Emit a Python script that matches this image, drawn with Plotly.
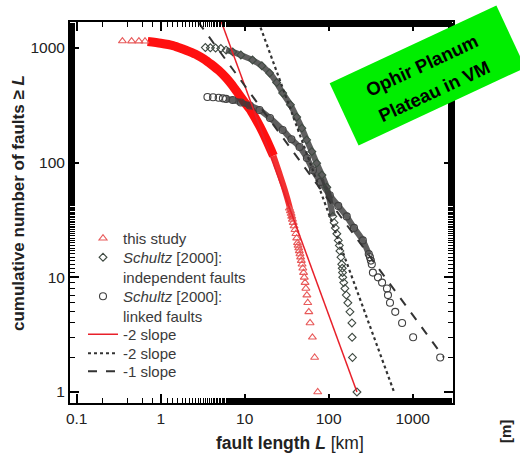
import math
import plotly.graph_objects as go

FONT = "Liberation Sans, Arial, sans-serif"

# ---- this study: cumulative number of faults >= L ----
study_band_L = [0.7, 1.0, 1.4, 1.8, 2.2, 2.7, 3.3, 4.0, 5.0, 6.0, 7.0, 8.0, 10, 12, 15, 18, 22]
study_band_N = [1140, 1100, 1050, 985, 930, 870, 800, 720, 630, 550, 480, 420, 335, 280, 210, 160, 115]
study_neck_L = [22, 26, 30, 34, 37]
study_neck_N = [115, 80, 58, 42, 32]
study_pts_L = [0.35, 0.45, 0.55, 0.65,
               34, 35, 35.7, 36.3, 37, 37.8, 38.7, 39.7, 40.7, 41.6, 42.5, 43.2, 44, 44.7, 45.5,
               46.3, 47.2, 48.2, 49.2, 50.2, 51.2, 52.3, 53.5, 55, 56.3, 58, 60, 64, 68, 74]
study_pts_N = [1150, 1149, 1148, 1146,
               40, 38, 36, 34, 32, 30, 28, 26, 24, 22, 20, 19, 18, 17, 16,
               15, 14, 13, 12, 11, 10, 9, 8, 7, 6, 5, 4, 3, 2, 1]

# ---- Schultz [2000]: independent faults ----
indep_band_L = [6.0, 7.2, 9.0, 12.4, 16, 19.8, 24, 28.3, 35, 41.6, 48, 54.7, 63, 72, 83, 95, 112]
indep_band_N = [960, 925, 870, 786, 700, 605, 500, 405, 320, 250, 200, 158, 125, 99, 78, 61, 34]
indep_pts_L = [3.4, 3.9, 4.5, 5.2,
               116, 120, 125, 130, 134, 136, 140, 143, 145, 146, 147, 151, 156, 162, 169, 179,
               189, 190, 192, 217]
indep_pts_N = [1010, 1005, 1000, 990,
               30, 27, 24, 21, 19, 17, 15, 13, 12, 11, 10, 9, 8, 7, 6, 5,
               4, 3, 2, 1]

# ---- Schultz [2000]: linked faults ----
linked_band_L = [6.0, 7.2, 9.0, 11.5, 15, 20, 28.3, 36, 45, 55, 65, 80, 103, 130, 164, 200, 255, 300]
linked_band_N = [360, 352, 335, 315, 288, 245, 193, 160, 137, 110, 86, 68, 52, 42, 34, 27, 21, 16]
linked_pts_L = [3.6, 4.2, 4.9, 5.5,
                310, 318, 326, 336, 386, 432, 494, 508, 537, 620, 748, 1012, 2125]
linked_pts_N = [374, 372, 368, 364,
                15, 14, 13, 11, 10, 9, 8, 7, 6, 5, 4, 3, 2]

# ---- reference power-law slopes (end points) ----
red_slope_L = [5.2, 217]
red_slope_N = [1740, 1]
dot_slope_L = [14.6, 600]
dot_slope_N = [1690, 1]
dash_slope_L = [2.8, 2350]
dash_slope_N = [1680, 2]

x_ticks = [0.1, 1, 10, 100, 1000]
x_tick_text = ["0.1", "1", "10", "100", "1000"]
y_ticks = [1, 10, 100, 1000]
y_tick_text = ["1", "10", "100", "1000"]

fig = go.Figure()

# dense parts of the distributions
fig.add_trace(go.Scatter(x=study_band_L, y=study_band_N, mode="lines",
                         line=dict(color="#ff1010", width=9, shape="spline", smoothing=0.7),
                         showlegend=False, hoverinfo="skip"))
fig.add_trace(go.Scatter(x=study_neck_L, y=study_neck_N, mode="lines",
                         line=dict(color="#f43030", width=6, shape="spline", smoothing=0.7),
                         showlegend=False, hoverinfo="skip"))
fig.add_trace(go.Scatter(x=indep_band_L, y=indep_band_N, mode="lines",
                         line=dict(color="rgba(55,55,55,0.8)", width=6, shape="spline", smoothing=0.7),
                         showlegend=False, hoverinfo="skip"))
fig.add_trace(go.Scatter(x=linked_band_L, y=linked_band_N, mode="lines",
                         line=dict(color="rgba(55,55,55,0.8)", width=6, shape="spline", smoothing=0.7),
                         showlegend=False, hoverinfo="skip"))

# individual symbols (each entry in its own legend box so the rows can be spaced freely)
fig.add_trace(go.Scatter(x=study_pts_L, y=study_pts_N, mode="markers", name="this study",
                         legend="legend",
                         marker=dict(symbol="triangle-up-open", size=7, color="#e85a5a",
                                     line=dict(width=1.1))))
fig.add_trace(go.Scatter(x=indep_band_L + indep_pts_L, y=indep_band_N + indep_pts_N, mode="markers",
                         name="<i>Schultz</i> [2000]:<br>independent faults", legend="legend2",
                         marker=dict(symbol="diamond-open", size=6, color="#3f4a42",
                                     line=dict(width=1.1))))
fig.add_trace(go.Scatter(x=linked_band_L + linked_pts_L, y=linked_band_N + linked_pts_N, mode="markers",
                         name="<i>Schultz</i> [2000]:<br>linked faults", legend="legend3",
                         marker=dict(symbol="circle-open", size=7, color="#404040",
                                     line=dict(width=1.1))))

# slope guides
fig.add_trace(go.Scatter(x=red_slope_L, y=red_slope_N, mode="lines", name="-2 slope",
                         legend="legend4", line=dict(color="#e8202a", width=1.5)))
fig.add_trace(go.Scatter(x=dot_slope_L, y=dot_slope_N, mode="lines", name="-2 slope",
                         legend="legend5", line=dict(color="#333333", width=2.2, dash="dot")))
fig.add_trace(go.Scatter(x=dash_slope_L, y=dash_slope_N, mode="lines", name="-1 slope",
                         legend="legend6", line=dict(color="#333333", width=2, dash="9px,9px")))

axis_common = dict(
    type="log", showgrid=False, zeroline=False,
    showline=True, linecolor="black", linewidth=2, mirror="allticks",
    ticks="inside", ticklen=9, tickwidth=1.5, tickcolor="black",
    minor=dict(ticks="inside", ticklen=5, tickwidth=1, tickcolor="black", showgrid=False),
    tickfont=dict(family=FONT, size=15.5, color="#222"),
)

fig.update_xaxes(range=[-1.08, 3.48], tickvals=x_ticks, ticktext=x_tick_text, **axis_common)
fig.update_yaxes(range=[-0.096, 3.227], tickvals=y_ticks, ticktext=y_tick_text, **axis_common)

# plot-area pixel geometry helpers for overlay items
L_M, R_M, T_M, B_M = 70, 67, 22, 58
W, H = 520, 461
PW, PH = W - L_M - R_M, H - T_M - B_M


def px(x):
    return (x - L_M) / PW


def py(y):
    return (H - B_M - y) / PH


# rotated green label box
cx, cy, bw, bh, ang = 427.5, 75.5, 184, 68.5, math.radians(25)
ux, uy = math.cos(ang), -math.sin(ang)
vx, vy = math.sin(ang), math.cos(ang)
corners = []
for a, b in [(-1, -1), (1, -1), (1, 1), (-1, 1)]:
    corners.append((cx + a * bw / 2 * ux + b * bh / 2 * vx, cy + a * bw / 2 * uy + b * bh / 2 * vy))
path = "M " + " L ".join(f"{px(x):.4f},{py(y):.4f}" for x, y in corners) + " Z"
fig.add_shape(type="path", path=path, xref="paper", yref="paper",
              fillcolor="#00ee00", line=dict(width=0), layer="above")

for txt, (tx, ty) in [("Ophir Planum", (421.5, 65)), ("Plateau in VM", (433.5, 91))]:
    fig.add_annotation(text=f"<b>{txt}</b>", x=px(tx), y=py(ty), xref="paper", yref="paper",
                       showarrow=False, textangle=-25, xanchor="center", yanchor="middle",
                       font=dict(family=FONT, size=18.5, color="black"))

# axis titles
fig.add_annotation(text="<b>cumulative number of faults ≥ <i>L</i></b>", x=px(18), y=py(203),
                   xref="paper", yref="paper", showarrow=False, textangle=-90,
                   xanchor="center", yanchor="middle",
                   font=dict(family=FONT, size=17, color="#222"))
fig.add_annotation(text="<b>fault length <i>L</i></b> [km]", x=px(290), y=py(443),
                   xref="paper", yref="paper", showarrow=False,
                   xanchor="center", yanchor="middle",
                   font=dict(family=FONT, size=17.5, color="#222"))
fig.add_annotation(text="<b>[m]</b>", x=px(505), y=py(432), xref="paper", yref="paper",
                   showarrow=False, textangle=-90, xanchor="center", yanchor="middle",
                   font=dict(family=FONT, size=15, color="#222"))

legend_rows = [237, 256, 295, 333, 352, 370]
legend_style = dict(xanchor="left", yanchor="top", bgcolor="rgba(0,0,0,0)", borderwidth=0,
                    valign="top", itemwidth=30,
                    font=dict(family=FONT, size=15, color="#3a3a3a"))
legends = {}
for i, row in enumerate(legend_rows):
    key = "legend" if i == 0 else f"legend{i + 1}"
    legends[key] = dict(x=px(83), y=py(row - 15), **legend_style)

fig.update_layout(
    width=W, height=H,
    margin=dict(l=L_M, r=R_M, t=T_M, b=B_M, autoexpand=False),
    paper_bgcolor="white", plot_bgcolor="white",
    showlegend=True,
    **legends,
)

fig.write_html("out.html")
